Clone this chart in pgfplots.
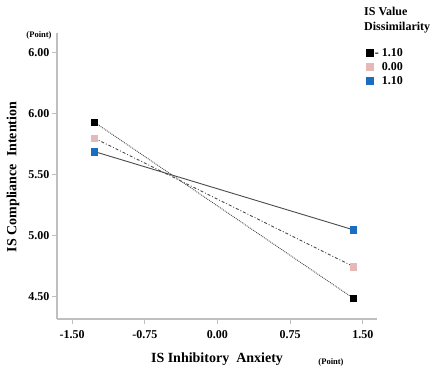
\documentclass[border=0pt]{standalone}
\usepackage{pgfplots}
\pgfplotsset{compat=1.18}
\usepackage{fontspec}
\setmainfont{Liberation Serif}
\definecolor{axgray}{HTML}{BFBFBF}
\definecolor{mpink}{HTML}{E6B9B8}
\definecolor{mblue}{HTML}{1B6DC1}
\definecolor{lgray}{HTML}{4A4A4A}
\begin{document}
\begin{tikzpicture}[x=1pt,y=1pt]
\useasboundingbox (0,0) rectangle (434,374);
\begin{axis}[
  at={(57pt,55pt)}, anchor=south west,
  scale only axis, width=320pt, height=286pt,
  xmin=-1.655, xmax=1.645, ymin=4.32, ymax=6.66,
  axis lines*=left,
  axis line style={axgray, line width=1.2pt, -},
  tick style={axgray, line width=1pt},
  tick align=outside, major tick length=5pt,
  xtick={-1.5,-0.75,0,0.75,1.5},
  xticklabels={-1.50,-0.75,0.00,0.75,1.50},
  ytick={4.5,5,5.5,6,6.5},
  yticklabels={4.50,5.00,5.50,6.00,6.00},
  tick label style={font=\bfseries\fontsize{12}{14}\selectfont, black},
  yticklabel style={xshift=1pt},
  xticklabel style={yshift=-3pt},
  legend style={at={(axis description cs:0.966,0.955)}, anchor=north west,
    draw=none, fill=none, inner sep=0pt, row sep=0.5pt,
    font=\bfseries\fontsize{12}{14}\selectfont,
    /tikz/every even column/.append style={column sep=1pt}},
  legend cell align=left,
  clip=false,
]
\addplot[lgray, line width=0.9pt, densely dotted, forget plot] coordinates {(-1.27,5.93) (1.40,4.49)};
\addplot[lgray, line width=0.9pt, dash dot, forget plot] coordinates {(-1.27,5.80) (1.40,4.75)};
\addplot[lgray, line width=0.9pt, forget plot] coordinates {(-1.27,5.69) (1.40,5.05)};
\addplot[only marks, mark=square*, mark size=3.3pt, mark options={fill=black, draw=black}] coordinates {(-1.27,5.93) (1.40,4.49)};
\addlegendentry{- 1.10}
\addplot[only marks, mark=square*, mark size=3.3pt, mark options={fill=mpink, draw=mpink}] coordinates {(-1.27,5.80) (1.40,4.75)};
\addlegendentry{\hphantom{- }0.00}
\addplot[only marks, mark=square*, mark size=3.3pt, mark options={fill=mblue, draw=mblue}] coordinates {(-1.27,5.69) (1.40,5.05)};
\addlegendentry{\hphantom{- }1.10}
\end{axis}
\node[anchor=north west, align=left, font=\bfseries\fontsize{12}{15}\selectfont, inner sep=0pt] at (364,367) {IS Value\\Dissimilarity};
\node[font=\bfseries\fontsize{8.5}{10}\selectfont, inner sep=0pt] at (39,339) {(Point)};
\node[font=\bfseries\fontsize{8.5}{10}\selectfont, inner sep=0pt] at (331,12) {(Point)};
\node[font=\bfseries\fontsize{14}{16}\selectfont, inner sep=0pt] at (217,15) {IS Inhibitory\ \ Anxiety};
\node[font=\bfseries\fontsize{14}{16}\selectfont, inner sep=0pt, rotate=90] at (13,197) {IS Compliance\ \ Intention};
\end{tikzpicture}
\end{document}
